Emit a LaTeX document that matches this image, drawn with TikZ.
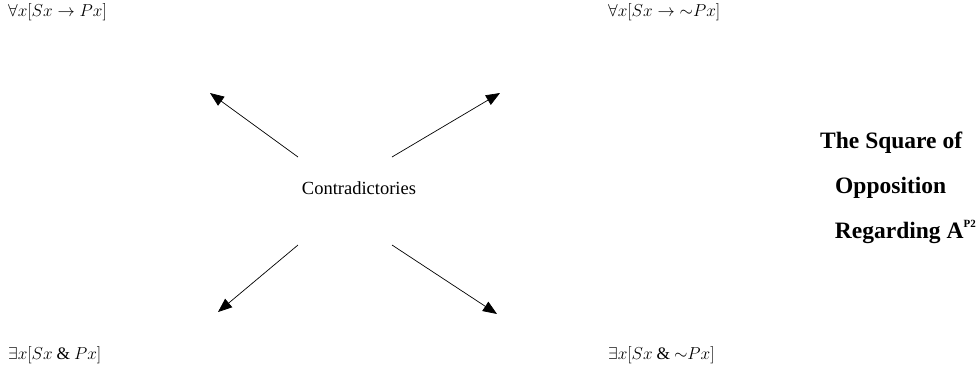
\documentclass[tikz,border=0pt]{standalone}
\usepackage{amsmath}
\usepackage{fontspec}
\setmainfont{Liberation Serif}
\usepackage{tikz}
\usetikzlibrary{arrows.meta}

\begin{document}
\begin{tikzpicture}[x=1pt,y=-1pt,
    formula/.style={anchor=west, inner sep=0pt, font=\fontsize{17.5}{20}\selectfont},
    heading/.style={anchor=west, inner sep=0pt, font=\fontsize{23.5}{28}\selectfont\bfseries},
    contra/.style={-{Triangle[length=14pt,width=11pt]}, line width=0.7pt}]
    \useasboundingbox (0,0) rectangle (978,368);
    \node[formula] (A) at (8,12) {$\forall x[Sx \to Px]$};
    \node[formula] (E) at (608,12) {$\forall x[Sx \to {\sim}Px]$};
    \node[formula] (I) at (8,355) {$\exists x[Sx \mathbin{\&} Px]$};
    \node[formula] (O) at (608,355) {$\exists x[Sx \mathbin{\&} {\sim}Px]$};
    \node[inner sep=0pt, font=\fontsize{18.5}{20}\selectfont] (mid) at (359,188) {Contradictories};
    \node[heading] (t1) at (820,143) {The Square of};
    \node[heading] (t2) at (835,188) {Opposition};
    \node[heading, anchor=east] (t3) at (976,232) {Regarding A\raisebox{1.1ex}{\fontsize{11}{11}\selectfont P2}};
    \coordinate (tl) at (298,157);
    \coordinate (tr) at (392,157);
    \coordinate (bl) at (298,245);
    \coordinate (br) at (392,245);
    \coordinate (tlend) at (210,93);
    \coordinate (trend) at (500,93);
    \coordinate (blend) at (218,312);
    \coordinate (brend) at (497,314);
    \draw[contra] (tl) -- (tlend);
    \draw[contra] (tr) -- (trend);
    \draw[contra] (bl) -- (blend);
    \draw[contra] (br) -- (brend);
\end{tikzpicture}
\end{document}
